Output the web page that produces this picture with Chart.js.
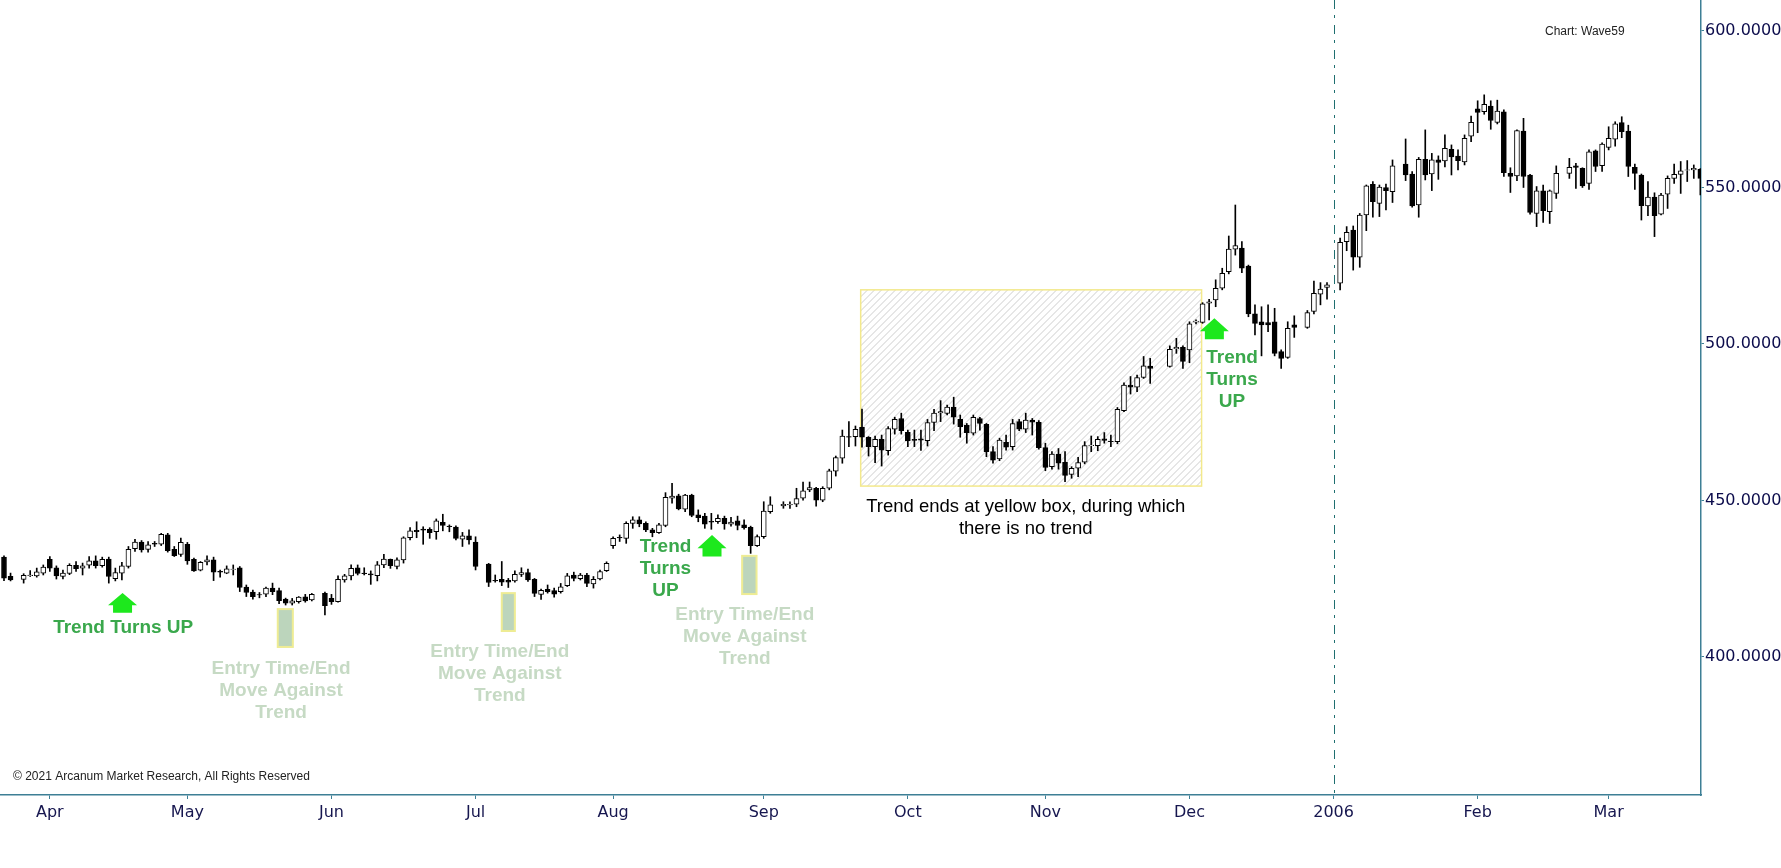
<!DOCTYPE html>
<html>
<head>
<meta charset="utf-8">
<title>Wave59 chart</title>
<script src="https://cdn.jsdelivr.net/npm/chart.js@4.4.0/dist/chart.umd.min.js"></script>
<style>
  html, body { margin: 0; padding: 0; background: #ffffff; }
  #canvas1 { width: 1781px; height: 868px; }
</style>
</head>
<body>
<div id="canvas1"><canvas id="Graphique" width="1781" height="868"></canvas></div>
<script>
// first weekday shown (slot 0); holidays stay as empty slots (null)
var firstDay = '2005-03-23';

var opens = [
  431.9, 425.8, null, 424.8, 426.0, 425.9, 426.8, 431.2, 428.5, 425.7,
  426.7, 429.3, 428.4, 429.3, 430.7, 429.2, 431.3, 425.0, 426.8, 428.9,
  434.6, 436.7, 434.4, 436.3, 436.0, 439.0, 434.4, 432.8, 436.0, 431.2,
  427.7, 430.4, 431.0, 427.4, 426.8, 428.0, 428.5, 422.3, 420.7, 419.9,
  420.1, 422.0, 421.2, 418.5, 417.2, 417.7, 419.2, 418.2, null, 420.3,
  418.7, 417.7, 424.6, 425.9, 428.5, 426.8, 426.6, 426.0, 429.4, 431.2,
  428.9, 431.0, 438.1, 440.5, 440.9, 440.8, 440.0, 443.0, 441.8, 441.5,
  437.6, 438.7, 436.7, null, 429.7, 424.5, 424.8, 424.5, 424.3, 426.4,
  427.0, 424.8, 420.0, 421.6, 421.2, 420.9, 422.8, 426.2, 425.0, 426.2,
  423.3, 424.9, 427.6, 435.6, 438.2, 437.9, 442.7, 443.8, 442.7, 440.6,
  439.7, 442.0, 450.7, 451.5, 447.2, 451.7, 445.4, 445.0, 443.3, 443.2,
  444.3, 442.4, 443.5, 442.2, 441.4, 435.6, 438.4, 446.4, null, 448.3,
  448.6, 448.8, 450.7, 453.4, 453.9, 450.1, 453.9, 459.4, 463.5, 470.4,
  470.4, 473.4, 470.2, 467.2, 469.5, 465.9, 472.8, 476.2, 471.8, 469.5,
  469.7, 469.1, 474.9, 478.0, 477.8, 479.8, 475.9, 474.1, 471.5, 476.2,
  474.3, 465.6, 463.3, 468.6, 467.2, 475.2, 472.8, 475.7, 475.0, 466.9,
  460.8, 464.8, 462.2, 458.3, 460.3, 462.2, 467.5, 467.5, 469.7, 468.9,
  468.8, 478.7, 486.9, 486.2, 489.3, 492.9, null, null, 492.8, 498.5,
  498.9, 498.1, 507.0, 506.9, 513.0, 514.1, 517.8, 523.1, 530.3, 530.6,
  524.9, 509.6, 507.1, 506.8, 507.1, 497.6, 495.7, 506.1, null, 505.3,
  510.4, 515.9, 518.1, null, 519.4, 532.7, 536.4, 527.7, 541.2, 551.0,
  544.9, 550.0, 548.7, null, 557.5, 554.3, 544.4, 559.0, 554.3, 558.8,
  558.5, 562.2, 560.0, 558.2, 566.4, 575.1, 574.2, 576.0, 570.8, 574.2,
  554.5, 553.7, 568.0, 554.0, 541.7, 548.9, 542.3, 548.1, null, 554.5,
  556.9, 556.1, 551.3, 561.7, 557.0, 562.8, 565.4, 570.7, 568.0, 556.4,
  554.0, 544.1, 546.9, 541.5, 547.9, 552.9, 554.2, 555.5, 555.6, 555.8
];

var highs = [
  432.3, 426.8, null, 426.6, 427.6, 428.4, 429.4, 432.1, 429.1, 427.8,
  429.8, 430.5, 430.0, 432.1, 432.3, 431.9, 431.9, 428.4, 430.2, 435.3,
  437.6, 437.2, 436.9, 436.9, 439.5, 439.5, 435.3, 438.0, 436.6, 431.6,
  430.5, 432.3, 431.9, 427.8, 429.1, 429.4, 428.9, 423.0, 421.4, 420.6,
  422.3, 423.6, 422.0, 418.8, 418.7, 419.3, 420.0, 420.3, null, 420.7,
  420.0, 425.9, 426.4, 429.4, 429.4, 428.5, 427.5, 430.5, 432.8, 431.3,
  431.7, 438.4, 441.3, 443.2, 441.6, 441.3, 444.1, 445.6, 442.2, 441.9,
  439.8, 440.6, 438.4, null, 429.9, 426.2, 430.5, 425.1, 427.5, 428.5,
  428.1, 425.1, 421.7, 423.0, 422.0, 423.5, 426.7, 427.1, 426.7, 426.7,
  425.7, 427.8, 430.4, 438.4, 439.0, 443.2, 444.8, 444.8, 443.2, 441.1,
  442.7, 452.5, 455.5, 452.0, 452.0, 452.0, 447.0, 445.9, 445.9, 445.4,
  445.0, 444.6, 445.0, 443.8, 441.8, 439.0, 449.6, 451.2, null, 449.6,
  449.6, 453.9, 455.9, 455.9, 454.2, 454.4, 460.0, 464.2, 472.5, 475.2,
  473.8, 479.2, 470.4, 470.6, 470.9, 473.6, 476.6, 477.9, 472.5, 472.5,
  472.5, 475.9, 479.1, 481.9, 480.5, 483.0, 477.3, 474.6, 477.3, 476.6,
  474.6, 467.2, 469.9, 470.9, 475.9, 475.9, 477.9, 476.2, 475.5, 468.3,
  465.6, 466.6, 465.6, 460.8, 463.8, 468.8, 470.6, 470.4, 471.7, 470.9,
  479.7, 487.6, 489.6, 490.1, 496.0, 495.4, null, null, 499.4, 501.8,
  499.4, 507.1, 507.7, 513.2, 514.3, 520.5, 524.2, 534.5, 544.4, 532.7,
  525.2, 512.5, 511.9, 512.5, 511.4, 498.1, 507.1, 509.0, null, 510.7,
  520.1, 519.6, 519.6, null, 533.8, 537.5, 537.7, 541.7, 550.8, 551.9,
  550.8, 551.1, 558.8, null, 565.5, 555.1, 559.6, 568.4, 560.9, 560.1,
  566.8, 563.6, 562.0, 566.8, 572.8, 577.7, 579.6, 577.7, 577.9, 574.8,
  556.3, 568.4, 572.1, 554.2, 550.3, 550.8, 549.2, 556.9, null, 559.3,
  557.7, 556.3, 562.0, 562.0, 564.3, 569.4, 571.0, 572.6, 569.9, 557.5,
  554.3, 551.9, 548.3, 548.1, 553.7, 557.5, 558.3, 558.6, 557.2, 556.0
];

var lows = [
  424.4, 424.3, null, 423.6, 425.7, 425.5, 426.2, 427.3, 424.9, 424.9,
  426.3, 427.3, 426.2, 428.4, 428.4, 428.7, 423.6, 424.3, 424.6, 428.4,
  433.7, 433.5, 433.5, 435.3, 435.6, 433.5, 432.1, 432.1, 429.6, 427.3,
  427.5, 429.4, 424.4, 425.5, 426.6, 426.2, 420.9, 419.3, 418.5, 418.9,
  419.3, 419.9, 417.0, 416.6, 416.6, 417.2, 417.5, 417.9, null, 413.4,
  416.8, 417.5, 423.9, 424.6, 426.2, 426.2, 423.2, 424.3, 428.5, 428.3,
  428.1, 430.0, 437.4, 438.1, 436.0, 437.9, 437.6, 440.3, 440.0, 437.4,
  435.3, 436.0, 427.8, null, 422.5, 423.9, 422.8, 422.2, 423.9, 425.7,
  424.1, 419.3, 418.4, 420.4, 419.1, 420.4, 422.5, 424.3, 424.6, 422.5,
  422.0, 424.6, 427.3, 434.7, 436.9, 436.3, 441.1, 441.6, 440.0, 438.4,
  439.5, 441.6, 449.1, 447.0, 446.4, 444.8, 443.2, 441.1, 440.8, 442.7,
  440.8, 441.8, 440.6, 440.8, 433.1, 435.3, 437.9, 445.9, null, 447.5,
  447.5, 448.0, 450.1, 452.8, 448.2, 449.6, 453.4, 457.8, 461.9, 467.2,
  467.4, 467.0, 464.2, 462.1, 461.0, 464.5, 471.2, 471.2, 467.2, 467.2,
  466.0, 467.4, 472.3, 475.2, 477.3, 474.4, 470.2, 468.3, 470.9, 472.5,
  464.0, 461.9, 462.7, 466.1, 466.1, 472.3, 471.7, 470.9, 466.4, 459.5,
  460.0, 460.0, 456.0, 457.1, 457.6, 461.7, 465.6, 465.9, 468.3, 467.2,
  468.1, 478.4, 484.0, 484.8, 489.0, 487.4, null, null, 492.6, 497.0,
  492.2, 494.0, 506.4, 506.6, 507.7, 511.9, 517.3, 522.4, 528.4, 522.8,
  508.7, 502.9, 496.2, 503.9, 496.2, 492.2, 495.4, 502.1, null, 505.0,
  509.6, 512.5, 514.3, null, 517.3, 529.8, 523.6, 524.5, 536.2, 540.5,
  540.7, 542.8, 545.2, null, 552.2, 543.7, 540.5, 552.4, 549.0, 552.6,
  556.6, 554.0, 555.6, 557.2, 564.6, 567.5, 573.4, 568.6, 570.3, 553.5,
  548.4, 552.2, 550.0, 541.5, 537.5, 538.8, 538.5, 546.5, null, 552.9,
  549.7, 550.0, 549.4, 555.1, 555.1, 562.0, 563.2, 565.9, 553.5, 549.4,
  539.6, 541.0, 534.3, 541.2, 543.3, 551.3, 548.1, 551.9, 552.9, 547.6
];

var closes = [
  425.2, 424.6, null, 426.1, 426.2, 427.2, 428.7, 428.4, 425.9, 426.8,
  429.3, 428.2, 429.1, 430.7, 429.2, 431.2, 425.7, 427.0, 429.1, 434.4,
  436.7, 434.2, 435.8, 436.0, 439.2, 434.0, 432.4, 436.6, 430.7, 427.5,
  430.2, 431.0, 427.1, 427.1, 428.2, 428.1, 422.2, 420.6, 419.3, 419.8,
  422.0, 420.9, 418.0, 417.2, 417.9, 419.1, 417.9, 420.0, null, 416.4,
  417.7, 424.8, 425.9, 428.3, 426.7, 426.6, 426.2, 429.4, 431.3, 429.2,
  431.0, 438.1, 440.3, 440.0, 440.5, 439.7, 443.5, 442.0, 441.6, 437.9,
  438.7, 437.4, 428.9, null, 423.8, 424.3, 423.9, 423.9, 426.4, 427.0,
  424.6, 420.3, 421.3, 420.9, 420.1, 422.4, 425.9, 425.1, 426.2, 423.5,
  424.8, 427.3, 429.9, 437.9, 438.0, 442.7, 443.8, 442.5, 440.6, 439.7,
  442.2, 451.0, 451.4, 447.3, 451.7, 445.2, 444.5, 442.4, 443.1, 444.3,
  442.5, 443.1, 442.0, 441.3, 435.6, 438.5, 446.6, 448.6, null, 448.8,
  448.8, 450.6, 453.1, 454.1, 450.1, 453.9, 459.5, 463.7, 470.6, 470.2,
  472.7, 470.2, 467.2, 469.5, 466.1, 473.0, 475.9, 472.3, 469.0, 469.2,
  469.3, 474.9, 477.9, 478.4, 479.8, 476.6, 473.6, 471.7, 476.6, 474.6,
  465.6, 462.9, 469.3, 467.0, 474.6, 472.8, 475.7, 475.0, 466.9, 460.6,
  464.8, 461.9, 458.0, 460.3, 462.1, 467.5, 467.7, 469.5, 469.2, 468.8,
  479.1, 486.9, 486.2, 489.3, 493.0, 492.2, null, null, 498.3, 498.9,
  494.4, 506.4, 507.3, 512.8, 513.5, 517.8, 522.6, 530.3, 531.4, 524.2,
  509.6, 506.6, 506.1, 506.1, 497.0, 495.4, 505.0, 505.3, null, 510.0,
  516.2, 517.5, 518.9, null, 532.5, 535.7, 527.7, 541.2, 550.5, 545.5,
  550.1, 549.0, 556.9, null, 554.0, 544.1, 559.0, 554.0, 558.8, 558.0,
  562.5, 559.8, 558.6, 565.7, 570.8, 574.0, 576.6, 571.4, 574.4, 554.7,
  553.5, 568.2, 553.5, 542.0, 548.9, 542.6, 548.9, 554.5, null, 556.4,
  556.4, 550.5, 561.4, 556.7, 563.9, 565.7, 570.3, 567.8, 556.7, 554.5,
  544.2, 546.9, 541.0, 547.6, 552.9, 554.2, 555.3, 555.6, 556.1, 552.9
];

var monthNames = ['Jan', 'Feb', 'Mar', 'Apr', 'May', 'Jun', 'Jul', 'Aug', 'Sep', 'Oct', 'Nov', 'Dec'];
var yTicks = [400, 450, 500, 550, 600];

var axisColor = '#3d7f95';

// annotations, in chart units (slot, price)
var hatchBox = { x1: 130.8, x2: 182.85, top: 517.3, bottom: 454.6 };
var entryBoxes = [
  { x1: 41.8, x2: 44.1, top: 415.3, bottom: 403.2 },
  { x1: 76.0, x2: 78.0, top: 420.4, bottom: 408.3 },
  { x1: 112.7, x2: 114.9, top: 432.3, bottom: 420.1 }
];
var arrows = [
  { x: 18.1, top: 420.4, bottom: 414.1 },
  { x: 108.1, top: 439.0, bottom: 432.1 },
  { x: 184.8, top: 508.2, bottom: 501.5 }
];
var notes = [
  { x: 18.2, y: 409.3, kind: 'green', lines: ['Trend Turns UP'] },
  { x: 101.0, y: 435.2, kind: 'green', lines: ['Trend', 'Turns', 'UP'] },
  { x: 187.5, y: 495.7, kind: 'green', lines: ['Trend', 'Turns', 'UP'] },
  { x: 42.3, y: 396.2, kind: 'pale', lines: ['Entry Time/End', 'Move Against', 'Trend'] },
  { x: 75.7, y: 401.6, kind: 'pale', lines: ['Entry Time/End', 'Move Against', 'Trend'] },
  { x: 113.1, y: 413.6, kind: 'pale', lines: ['Entry Time/End', 'Move Against', 'Trend'] },
  { x: 156.0, y: 447.9, kind: 'plain', lines: ['Trend ends at yellow box, during which', 'there is no trend'] }
];
var noteFonts = {
  green: { font: 'bold 19px "Liberation Sans", Arial, sans-serif', color: '#3aa84c' },
  pale: { font: 'bold 19px "Liberation Sans", Arial, sans-serif', color: '#c6dac4' },
  plain: { font: '18.5px "Liberation Sans", Arial, sans-serif', color: '#000000' }
};

// weekday dates for every slot
var dates = [];
var d = new Date(firstDay + 'T12:00:00Z');
while (dates.length < opens.length) {
  var wd = d.getUTCDay();
  if (wd !== 0 && wd !== 6) dates.push(new Date(d.getTime()));
  d.setUTCDate(d.getUTCDate() + 1);
}

// first slot of each month -> tick
var monthStarts = [];
var monthLabels = {};
for (var i = 1; i < dates.length; i++) {
  var m = dates[i].getUTCMonth();
  if (m !== dates[i - 1].getUTCMonth()) {
    monthStarts.push(i);
    monthLabels[i] = m === 0 ? String(dates[i].getUTCFullYear()) : monthNames[m];
  }
}
var yearStart = monthStarts.filter(function (s) { return dates[s].getUTCMonth() === 0; })[0];

// candles = wick bar + body bar
var wicks = [];
var bodies = [];
var bodyColors = [];
for (var k = 0; k < opens.length; k++) {
  if (opens[k] === null) continue;
  wicks.push({ x: k, y: [lows[k], highs[k]] });
  bodies.push({ x: k, y: [Math.min(opens[k], closes[k]), Math.max(opens[k], closes[k])] });
  bodyColors.push(closes[k] >= opens[k] ? '#ffffff' : '#000000');
}

var annotationsPlugin = {
  id: 'annotations',
  beforeDatasetsDraw: function (chart) {
    var ctx = chart.ctx, xs = chart.scales.x, ys = chart.scales.y, area = chart.chartArea;
    ctx.save();
    // yellow box with hatching
    var bx = xs.getPixelForValue(hatchBox.x1), bw = xs.getPixelForValue(hatchBox.x2) - bx;
    var by = ys.getPixelForValue(hatchBox.top), bh = ys.getPixelForValue(hatchBox.bottom) - by;
    ctx.save();
    ctx.beginPath();
    ctx.rect(bx, by, bw, bh);
    ctx.clip();
    ctx.strokeStyle = '#cdcdcd';
    ctx.lineWidth = 1;
    ctx.beginPath();
    for (var t = -bh; t < bw; t += 7) {
      ctx.moveTo(bx + t, by + bh);
      ctx.lineTo(bx + t + bh, by);
    }
    ctx.stroke();
    ctx.restore();
    ctx.strokeStyle = '#f3e98c';
    ctx.lineWidth = 1.5;
    ctx.strokeRect(bx, by, bw, bh);
    // dash-dot line at the new year
    var lx = Math.round(xs.getPixelForValue(yearStart)) + 0.5;
    ctx.strokeStyle = '#1f6f70';
    ctx.lineWidth = 1;
    ctx.setLineDash([9, 6, 3, 7]);
    ctx.beginPath();
    ctx.moveTo(lx, area.top);
    ctx.lineTo(lx, area.bottom);
    ctx.stroke();
    ctx.restore();
  },
  afterDatasetsDraw: function (chart) {
    var ctx = chart.ctx, xs = chart.scales.x, ys = chart.scales.y;
    ctx.save();
    entryBoxes.forEach(function (b) {
      var x = xs.getPixelForValue(b.x1), w = xs.getPixelForValue(b.x2) - x;
      var y = ys.getPixelForValue(b.top), h = ys.getPixelForValue(b.bottom) - y;
      ctx.fillStyle = '#bcd5bc';
      ctx.fillRect(x, y, w, h);
      ctx.strokeStyle = '#eeec94';
      ctx.lineWidth = 2;
      ctx.strokeRect(x, y, w, h);
    });
    arrows.forEach(function (a) {
      var cx = xs.getPixelForValue(a.x);
      var top = ys.getPixelForValue(a.top), bot = ys.getPixelForValue(a.bottom);
      var h = bot - top, mid = top + h * 0.62;
      ctx.fillStyle = '#1de81d';
      ctx.beginPath();
      ctx.moveTo(cx, top);
      ctx.lineTo(cx + 14.5, mid);
      ctx.lineTo(cx + 9.5, mid);
      ctx.lineTo(cx + 9.5, bot);
      ctx.lineTo(cx - 9.5, bot);
      ctx.lineTo(cx - 9.5, mid);
      ctx.lineTo(cx - 14.5, mid);
      ctx.closePath();
      ctx.fill();
    });
    ctx.restore();
  },
  afterDraw: function (chart) {
    var ctx = chart.ctx, xs = chart.scales.x, ys = chart.scales.y, area = chart.chartArea;
    ctx.save();
    ctx.textAlign = 'center';
    ctx.textBaseline = 'middle';
    notes.forEach(function (n) {
      var f = noteFonts[n.kind];
      var cx = xs.getPixelForValue(n.x), cy = ys.getPixelForValue(n.y);
      ctx.font = f.font;
      ctx.fillStyle = f.color;
      n.lines.forEach(function (line, j) {
        ctx.fillText(line, cx, cy + j * 22);
      });
    });
    ctx.textAlign = 'left';
    ctx.font = '12px "Liberation Sans", Arial, sans-serif';
    ctx.fillStyle = '#222222';
    ctx.fillText('Chart: Wave59', area.right - 156, area.top + 32);
    ctx.fillText('\u00a9 2021 Arcanum Market Research, All Rights Reserved', area.left + 13, area.bottom - 18);
    ctx.restore();
  }
};

var data = {
  datasets: [{
    label: 'wick',
    data: wicks,
    backgroundColor: '#000000',
    barThickness: 1,
    grouped: false,
    order: 2
  }, {
    label: 'body',
    data: bodies,
    backgroundColor: bodyColors,
    borderColor: '#000000',
    borderWidth: 1,
    borderSkipped: false,
    barThickness: 5,
    grouped: false,
    order: 1
  }]
};

var option = {
  responsive: false,
  animation: false,
  layout: { padding: 0 },
  plugins: {
    legend: { display: false },
    tooltip: { enabled: false },
    title: { display: false }
  },
  scales: {
    x: {
      type: 'linear',
      min: -0.61,
      max: 259.1,
      bounds: 'data',
      offset: false,
      afterBuildTicks: function (sc) {
        sc.ticks = monthStarts.map(function (s) { return { value: s }; });
      },
      afterFit: function (sc) {
        sc.height = 73;
        sc.paddingLeft = 0;
        sc.paddingRight = 0;
      },
      ticks: {
        autoSkip: false,
        maxRotation: 0,
        padding: 4,
        color: '#16164f',
        font: { family: 'DejaVu Sans', size: 16 },
        callback: function (v) { return monthLabels[v] || ''; }
      },
      grid: { drawOnChartArea: false, drawTicks: true, tickLength: 4, offset: false, color: axisColor },
      border: { color: axisColor, width: 1.5 }
    },
    y: {
      type: 'linear',
      position: 'right',
      min: 355.9,
      max: 609.9,
      bounds: 'data',
      afterBuildTicks: function (sc) {
        sc.ticks = yTicks.map(function (v) { return { value: v }; });
      },
      afterFit: function (sc) {
        sc.width = 80;
        sc.paddingTop = 0;
        sc.paddingBottom = 0;
      },
      ticks: {
        padding: 1,
        color: '#0c0c4c',
        font: { family: 'DejaVu Sans', size: 16 },
        callback: function (v) { return Number(v).toFixed(4); }
      },
      grid: { drawOnChartArea: false, drawTicks: true, tickLength: 3, color: axisColor },
      border: { color: axisColor, width: 1.5 }
    }
  }
};

var chartElem = document.getElementById('Graphique').getContext('2d');
var chartObj = new Chart(chartElem, {
  type: 'bar',
  data: data,
  options: option,
  plugins: [annotationsPlugin]
});
</script>
</body>
</html>
